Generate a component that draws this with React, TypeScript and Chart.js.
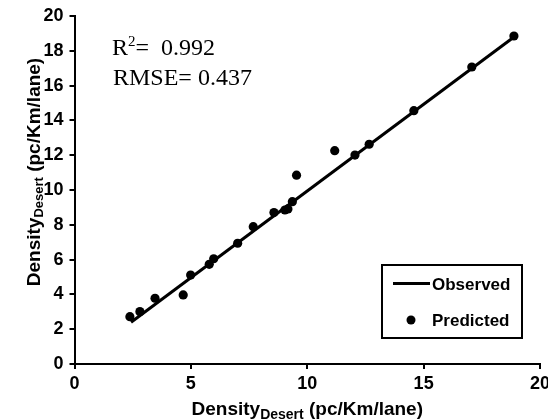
import React, { useEffect, useRef } from 'react';
import { Chart, registerables } from 'chart.js';

Chart.register(...registerables);

// ---- data ----
const predictedX = [2.38, 2.81, 3.46, 4.67, 4.99, 5.79, 5.98, 7.01, 7.68, 8.57, 9.04, 9.17, 9.36, 9.54, 11.18, 12.05, 12.66, 14.58, 17.07, 18.88];
const predictedY = [2.72, 3.01, 3.78, 3.97, 5.11, 5.73, 6.05, 6.94, 7.89, 8.7, 8.85, 8.91, 9.33, 10.85, 12.26, 12.01, 12.63, 14.56, 17.07, 18.85];
const observedX = [2.43, 18.94];
const observedY = [2.4, 18.85];
const xTicks = [0, 5, 10, 15, 20];
const yTicks = [0, 2, 4, 6, 8, 10, 12, 14, 16, 18, 20];
const seriesNames = ['Observed', 'Predicted'];
const titleMain = 'Density';
const titleSub = 'Desert';
const titleUnit = ' (pc/Km/lane)';
const r2Value = '0.992';
const rmseValue = '0.437';

const SANS = '"Liberation Sans", Arial, sans-serif';
const SERIF = '"Liberation Serif", "Times New Roman", serif';

type Part = { text: string; font: string; dy: number };

function drawParts(ctx: CanvasRenderingContext2D, parts: Part[], x: number, y: number, align: 'left' | 'center') {
  ctx.textBaseline = 'alphabetic';
  ctx.textAlign = 'left';
  let total = 0;
  const widths = parts.map((p) => {
    ctx.font = p.font;
    const w = ctx.measureText(p.text).width;
    total += w;
    return w;
  });
  let cx = align === 'center' ? x - total / 2 : x;
  parts.forEach((p, i) => {
    ctx.font = p.font;
    ctx.fillText(p.text, cx, y + p.dy);
    cx += widths[i];
  });
}

const overlayPlugin = {
  id: 'overlay',
  afterDraw(chart: any) {
    const ctx: CanvasRenderingContext2D = chart.ctx;
    const a = chart.chartArea;
    ctx.save();
    ctx.fillStyle = '#000';
    ctx.strokeStyle = '#000';

    // statistics text
    const sx = a.left + 37.5;
    drawParts(ctx, [
      { text: 'R', font: `24px ${SERIF}`, dy: 0 },
      { text: '2', font: `15px ${SERIF}`, dy: -9 },
      { text: '=  ' + r2Value, font: `24px ${SERIF}`, dy: 0 },
    ], sx, a.top + 39, 'left');
    drawParts(ctx, [{ text: 'RMSE= ' + rmseValue, font: `24px ${SERIF}`, dy: 0 }], sx + 1, a.top + 69, 'left');

    // x axis title
    drawParts(ctx, [
      { text: titleMain, font: `bold 19px ${SANS}`, dy: 0 },
      { text: titleSub, font: `bold 14px ${SANS}`, dy: 4 },
      { text: titleUnit, font: `bold 19px ${SANS}`, dy: 0 },
    ], (a.left + a.right) / 2, a.bottom + 51, 'center');

    // y axis title
    ctx.save();
    ctx.translate(a.left - 35, (a.top + a.bottom) / 2 - 18);
    ctx.rotate(-Math.PI / 2);
    drawParts(ctx, [
      { text: titleMain, font: `bold 19px ${SANS}`, dy: 0 },
      { text: titleSub, font: `bold 13px ${SANS}`, dy: 3 },
      { text: titleUnit, font: `bold 19px ${SANS}`, dy: 0 },
    ], 0, 0, 'center');
    ctx.restore();

    // legend box
    const bx = a.right - 158, by = a.bottom - 99, bw = 140, bh = 73;
    ctx.lineWidth = 2;
    ctx.strokeRect(bx, by, bw, bh);
    ctx.lineWidth = 3;
    ctx.beginPath();
    ctx.moveTo(bx + 11, by + 18.5);
    ctx.lineTo(bx + 48, by + 18.5);
    ctx.stroke();
    ctx.beginPath();
    ctx.arc(bx + 29, by + 55, 4.5, 0, Math.PI * 2);
    ctx.fill();
    ctx.font = `bold 17px ${SANS}`;
    ctx.textBaseline = 'middle';
    ctx.textAlign = 'left';
    ctx.fillText(seriesNames[0], bx + 50, by + 20);
    ctx.fillText(seriesNames[1], bx + 50, by + 56);
    ctx.restore();
  },
};

export default function App() {
  const ref = useRef<HTMLCanvasElement>(null);
  useEffect(() => {
    if (!ref.current) return;
    const axisCommon = {
      type: 'linear' as const,
      min: 0,
      max: 20,
      grid: { display: true, drawOnChartArea: false, drawTicks: true, tickLength: 5, color: '#000', lineWidth: 2 },
      border: { display: true, color: '#000', width: 2 },
    };
    const chart = new Chart(ref.current, {
      type: 'scatter',
      data: {
        datasets: [
          {
            label: seriesNames[0],
            type: 'line',
            data: observedX.map((x, i) => ({ x, y: observedY[i] })),
            borderColor: '#000',
            borderWidth: 3,
            pointRadius: 0,
            fill: false,
          } as any,
          {
            label: seriesNames[1],
            data: predictedX.map((x, i) => ({ x, y: predictedY[i] })),
            backgroundColor: '#000',
            borderColor: '#000',
            borderWidth: 0,
            pointRadius: 4.6,
          },
        ],
      },
      options: {
        animation: false,
        responsive: false,
        maintainAspectRatio: false,
        layout: { padding: { top: 16, right: 8, left: 0, bottom: 0 } },
        plugins: { legend: { display: false }, tooltip: { enabled: false } },
        scales: {
          x: {
            ...axisCommon,
            afterBuildTicks: (s: any) => { s.ticks = xTicks.map((v) => ({ value: v })); },
            afterFit: (s: any) => { s.height = 56; s.paddingLeft = 0; s.paddingRight = 0; },
            ticks: { color: '#000', font: { family: SANS, size: 18, weight: 'bold' }, padding: 4, maxRotation: 0, autoSkip: false },
          },
          y: {
            ...axisCommon,
            afterBuildTicks: (s: any) => { s.ticks = yTicks.map((v) => ({ value: v })); },
            afterFit: (s: any) => { s.width = 74.5; s.paddingTop = 0; s.paddingBottom = 0; },
            ticks: { color: '#000', font: { family: SANS, size: 18, weight: 'bold' }, padding: 6, autoSkip: false },
          },
        },
      },
      plugins: [overlayPlugin],
    });
    return () => chart.destroy();
  }, []);
  return (
    <div style={{ position: 'fixed', left: 0, top: 0, width: 548, height: 420, background: '#fff' }}>
      <canvas ref={ref} width={548} height={420} style={{ display: 'block', width: 548, height: 420 }} />
    </div>
  );
}
